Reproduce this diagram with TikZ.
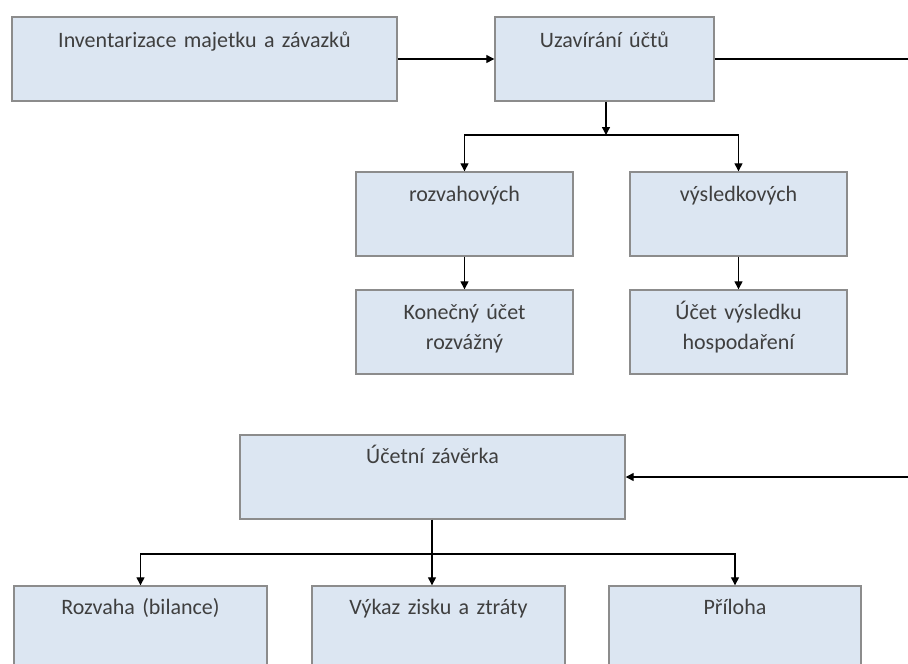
\documentclass[tikz,border=0pt]{standalone}
\usepackage{fontspec}
\setmainfont{Carlito}
\usetikzlibrary{arrows.meta}
\definecolor{boxfill}{HTML}{DCE6F2}
\definecolor{boxline}{HTML}{8C8C8C}
\definecolor{textgray}{HTML}{3F3F3F}
\begin{document}
\begin{tikzpicture}[x=1pt, y=-1pt,
    box/.style={draw=boxline, fill=boxfill, line width=1.4pt, minimum height=84pt, inner sep=0pt},
    lbl/.style={text=textgray, font=\fontsize{22}{30}\selectfont, text width=210pt, align=center, anchor=base, inner sep=0pt},
    arr/.style={-{Triangle[length=8pt,width=8pt]}, line width=1.3pt},
    link/.style={line width=1.3pt}]
  \useasboundingbox (0,0) rectangle (908,664);
  \clip (0,0) rectangle (908,664);

  % boxes
  \node[box, minimum width=385pt] (inv) at (204.5,59) {};
  \node[box, minimum width=219pt] (uza) at (604.5,59) {};
  \node[box, minimum width=217pt] (roz) at (464.5,214) {};
  \node[box, minimum width=217pt] (vys) at (738.5,214) {};
  \node[box, minimum width=217pt] (kon) at (464.5,332) {};
  \node[box, minimum width=217pt] (ucet) at (738.5,332) {};
  \node[box, minimum width=385pt] (zav) at (432.5,477) {};
  \node[box, minimum width=253pt] (rozv) at (140.5,628) {};
  \node[box, minimum width=253pt] (vyk) at (438.5,628) {};
  \node[box, minimum width=252pt] (pri) at (735,628) {};

  \node[lbl, text width=370pt] (invt) at ([yshift=-31pt]inv.north) {Inventarizace majetku a závazků};
  \node[lbl] (uzat) at ([yshift=-31pt]uza.north) {Uzavírání účtů};
  \node[lbl] (rozt) at ([yshift=-30pt]roz.north) {rozvahových};
  \node[lbl] (vyst) at ([yshift=-30pt]vys.north) {výsledkových};
  \node[lbl] (kont) at ([yshift=-30pt]kon.north) {Konečný účet\\ rozvážný};
  \node[lbl] (ucett) at ([yshift=-30pt]ucet.north) {Účet výsledku\\ hospodaření};
  \node[lbl] (zavt) at ([yshift=-29pt]zav.north) {Účetní závěrka};
  \node[lbl] (rozvt) at ([yshift=-29pt]rozv.north) {Rozvaha (bilance)};
  \node[lbl] (vykt) at ([yshift=-29pt]vyk.north) {Výkaz zisku a ztráty};
  \node[lbl] (prit) at ([yshift=-29pt]pri.north) {Příloha};

  % connectors
  \coordinate (outA) at (908,59);
  \coordinate (outB) at (908,477);
  \coordinate (splitA) at (606,135);
  \coordinate (splitB) at (432,554);

  \draw[arr] (inv) -- (uza);
  \draw[link] (uza.east) -- (outA);
  \draw[arr] (uza.south -| splitA) -- (splitA);
  \draw[arr] (splitA) -| (roz.north);
  \draw[arr] (splitA) -| (vys.north);
  \draw[arr] (roz) -- (kon);
  \draw[arr] (vys) -- (ucet);

  \draw[arr] (outB) -- (zav.east);
  \draw[arr] (zav.south -| splitB) -- (splitB |- vyk.north);
  \draw[arr] (splitB) -| (rozv.north);
  \draw[arr] (splitB) -| (pri.north);
\end{tikzpicture}
\end{document}
